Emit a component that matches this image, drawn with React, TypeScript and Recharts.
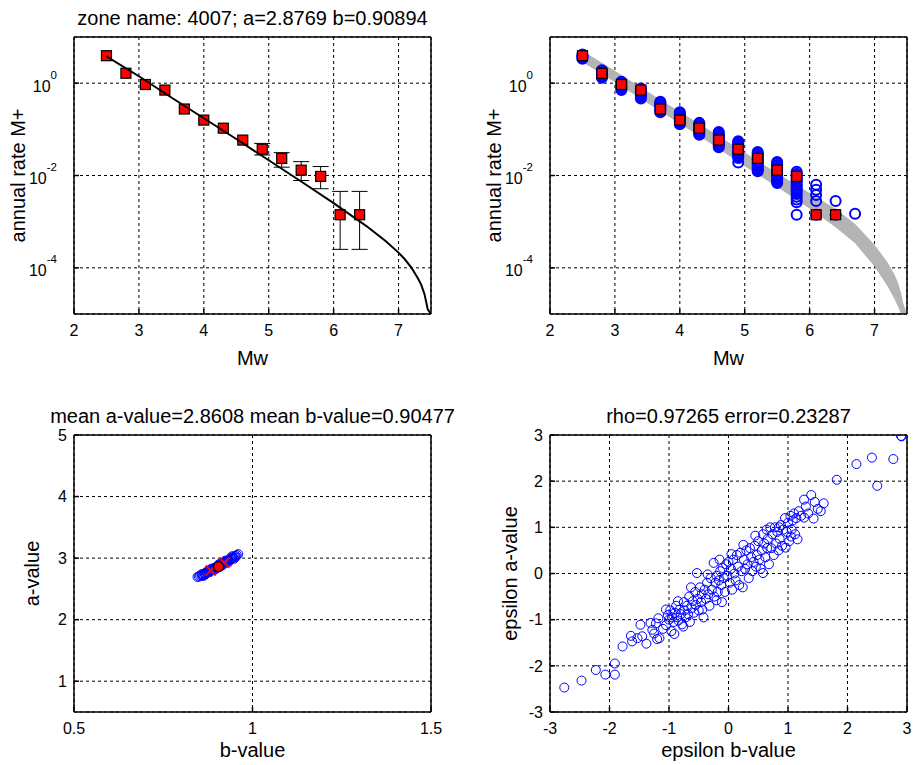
import React from 'react';
import { ComposedChart, ScatterChart, Scatter, Line, Area, XAxis, YAxis, CartesianGrid, ErrorBar } from 'recharts';

const FONT = "'Liberation Sans', Arial, Helvetica, sans-serif";

const mags = [2.5, 2.8, 3.1, 3.4, 3.7, 4.0, 4.3, 4.6, 4.9, 5.2, 5.5, 5.8, 6.1, 6.4];
const obsLog = [0.595, 0.215, -0.029, -0.15, -0.56, -0.8, -0.975, -1.233, -1.43, -1.63, -1.885, -2.02, -2.85, -2.85];
// error bars only stick out of the markers from Mw 4.9 upwards
const barMags = [4.9, 5.2, 5.5, 5.8, 6.1, 6.4];
const barLog = [-1.43, -1.63, -1.885, -2.02, -2.85, -2.85];
const barLoLog = [-1.556, -1.82, -2.108, -2.287, -3.6, -3.6];
const barHiLog = [-1.305, -1.505, -1.7, -1.806, -2.344, -2.344];

// fitted curve (black line)
const fitMags = [2.5, 3.0, 3.5, 4.0, 4.5, 5.0, 5.5, 6.0, 6.5, 6.8, 7.0, 7.1, 7.2, 7.3, 7.35, 7.4, 7.45, 7.5];
const fitLog = [0.58, 0.15, -0.31, -0.76, -1.21, -1.67, -2.13, -2.6, -3.09, -3.42, -3.67, -3.82, -4.0, -4.23, -4.37, -4.57, -4.9, -5];

// grey band of simulated curves
const bandMags = [2.5, 3.0, 3.5, 4.0, 4.5, 5.0, 5.5, 6.0, 6.4, 6.7, 7.0, 7.2, 7.3, 7.36, 7.41, 7.44, 7.5];
const bandHiLog = [0.7, 0.27, -0.18, -0.62, -1.06, -1.5, -1.95, -2.38, -2.72, -3.05, -3.5, -3.88, -4.13, -4.32, -4.55, -4.76, -5];
const bandLoLog = [0.46, 0.02, -0.43, -0.88, -1.33, -1.8, -2.25, -2.72, -3.12, -3.47, -3.97, -4.4, -4.66, -4.83, -5, -5, -5];

// simulated rates (blue circles), one column per magnitude
const simMags = [2.5, 2.8, 3.1, 3.4, 3.7, 4.0, 4.3, 4.6, 4.9, 5.2, 5.5, 5.8, 6.1, 6.4, 6.7];
const simLog = [
  [0.53, 0.56, 0.59, 0.62],
  [0.115, 0.15, 0.18, 0.21, 0.24, 0.28],
  [-0.15, -0.12, -0.09, -0.06, -0.03, 0.0, 0.03],
  [-0.33, -0.3, -0.27, -0.24, -0.21, -0.18, -0.15, -0.115],
  [-0.63, -0.6, -0.57, -0.54, -0.51, -0.48, -0.45, -0.42, -0.4],
  [-0.89, -0.86, -0.83, -0.8, -0.77, -0.74, -0.71, -0.68, -0.65, -0.63],
  [-1.12, -1.09, -1.06, -1.03, -1.0, -0.97, -0.94, -0.91, -0.88, -0.86],
  [-1.39, -1.36, -1.33, -1.3, -1.27, -1.24, -1.21, -1.18, -1.15, -1.12, -1.09, -1.06],
  [-1.72, -1.62, -1.59, -1.56, -1.53, -1.5, -1.47, -1.44, -1.41, -1.38, -1.35, -1.32, -1.29, -1.26],
  [-1.91, -1.88, -1.85, -1.82, -1.79, -1.76, -1.73, -1.7, -1.67, -1.64, -1.61, -1.58, -1.55, -1.52, -1.49],
  [-2.16, -2.13, -2.1, -2.07, -2.04, -2.01, -1.98, -1.95, -1.92, -1.89, -1.86, -1.83, -1.8, -1.77, -1.74, -1.71],
  [-2.85, -2.58, -2.52, -2.46, -2.4, -2.36, -2.32, -2.28, -2.24, -2.2, -2.16, -2.12, -2.08, -2.04, -2.0, -1.96, -1.92],
  [-2.85, -2.55, -2.42, -2.31, -2.2],
  [-2.85, -2.55],
  [-2.83],
];

const magTicks = [2, 3, 4, 5, 6, 7];
const rateTicks = [1e-4, 1e-2, 1];

// bottom left: a-value vs b-value of the simulations
const cloudBA = [
  [0.846, 2.695], [0.85, 2.7], [0.853, 2.715], [0.857, 2.72], [0.86, 2.735], [0.863, 2.725], [0.866, 2.75],
  [0.869, 2.745], [0.872, 2.765], [0.875, 2.77], [0.878, 2.78], [0.881, 2.79], [0.884, 2.8], [0.887, 2.81],
  [0.89, 2.82], [0.893, 2.835], [0.896, 2.84], [0.899, 2.855], [0.902, 2.86], [0.905, 2.87], [0.908, 2.885],
  [0.911, 2.89], [0.914, 2.9], [0.917, 2.915], [0.92, 2.92], [0.923, 2.935], [0.926, 2.94], [0.929, 2.955],
  [0.932, 2.965], [0.935, 2.97], [0.938, 2.985], [0.941, 2.99], [0.944, 3.005], [0.947, 3.01], [0.95, 3.03],
  [0.953, 3.035], [0.956, 3.05], [0.96, 3.065], [0.87, 2.77], [0.88, 2.77], [0.889, 2.835], [0.898, 2.83],
  [0.907, 2.905], [0.916, 2.885], [0.925, 2.96], [0.934, 2.945], [0.943, 3.03], [0.952, 3.01], [0.862, 2.71],
  [0.876, 2.795], [0.858, 2.74], [0.867, 2.73], [0.884, 2.825], [0.894, 2.81], [0.903, 2.885], [0.913, 2.875],
  [0.922, 2.95], [0.931, 2.93], [0.94, 3.01], [0.948, 2.99],
];
const crossBA = [[0.883, 2.8], [0.921, 2.925]];
const meanBA = [[0.9048, 2.8608]];

// bottom right: standardised residuals
const epsBA = [
  [-2.76, -2.47], [-2.47, -2.32], [-2.23, -2.09], [-2.07, -2.19], [-1.91, -1.95], [-1.91, -2.19],
  [-1.78, -1.58], [-1.64, -1.35], [-1.62, -1.47], [-1.53, -1.4], [-1.48, -1.11], [-1.38, -1.52], [-1.45, -1.36],
  [-1.31, -1.07], [-1.28, -1.22], [-1.25, -1.3], [-1.2, -1.42], [-1.16, -1.4], [-1.22, -1.08], [-1.18, -0.97],
  [-1.1, -1.2], [-1.05, -1.12], [-1.02, -0.9], [-1.0, -1.0], [-0.98, -0.8], [-0.96, -1.25], [-0.91, -1.31],
  [-0.95, -0.95], [-0.92, -1.05], [-0.9, -0.85], [-0.88, -0.7], [-0.86, -0.95], [-0.84, -1.02], [-0.82, -0.78],
  [-0.8, -0.88], [-0.78, -1.1], [-0.75, -0.62], [-0.74, -0.8], [-0.72, -0.95], [-0.7, -0.7], [-0.68, -0.88],
  [-0.66, -0.5], [-0.65, -1.05], [-0.62, -0.75], [-0.6, -0.6], [-0.58, -0.85], [-0.56, -0.4], [-0.55, -0.68],
  [-0.53, 0.01], [-0.52, -0.55], [-0.5, -0.8], [-0.48, -0.3], [-0.46, -0.62], [-0.45, -0.45], [-0.42, -0.95],
  [-0.4, -0.35], [-0.38, -0.55], [-0.36, -0.2], [-0.34, -0.45], [-0.32, -0.7], [-0.3, -0.1], [-0.28, -0.35],
  [-0.25, 0.23], [-0.24, -0.5], [-0.22, -0.2], [-0.2, -0.05], [-0.18, -0.4], [-0.16, -0.15], [-0.14, 0.05],
  [-0.12, -0.25], [-0.11, -0.62], [-0.1, 0.12], [-0.08, -0.1], [-0.06, -0.4], [-0.04, 0.2], [-0.02, -0.05],
  [0.0, 0.25], [0.02, -0.2], [0.04, 0.1], [0.06, -0.35], [0.08, 0.3], [0.1, 0.0], [0.12, -0.15], [0.14, 0.4],
  [0.16, 0.15], [0.18, -0.25], [0.2, 0.45], [0.22, 0.05], [0.24, -0.3], [0.26, 0.3], [0.28, 0.1], [0.3, 0.5],
  [0.32, 0.2], [0.34, -0.1], [0.36, 0.55], [0.38, 0.35], [0.4, 0.05], [0.42, 0.25], [0.44, 0.6], [0.46, 0.15],
  [0.48, 0.4], [0.5, 0.7], [0.52, 0.3], [0.54, 0.1], [0.56, 0.5], [0.58, 0.01], [0.58, 0.85], [0.6, 0.65],
  [0.62, 0.35], [0.64, 0.95], [0.66, 0.75], [0.68, 0.2], [0.7, 1.0], [0.72, 0.55], [0.74, 0.85], [0.76, 0.4],
  [0.78, 1.0], [0.8, 0.65], [0.82, 0.9], [0.84, 0.5], [0.86, 0.75], [0.88, 1.05], [0.9, 0.6], [0.92, 0.95],
  [0.96, 0.56], [0.95, 1.2], [0.98, 0.9], [1.0, 1.1], [1.02, 0.7], [1.04, 1.25], [1.06, 0.95], [1.08, 1.15],
  [1.1, 1.3], [1.12, 0.85], [1.16, 0.74], [1.14, 1.2], [1.18, 1.35], [1.22, 1.25], [1.27, 1.21], [1.27, 1.6],
  [1.3, 1.45], [1.34, 1.3], [1.39, 1.7], [1.43, 1.19], [1.45, 1.55], [1.5, 1.4], [1.55, 1.35], [1.6, 1.52],
  [1.82, 2.03], [2.15, 2.37], [2.41, 2.51], [2.5, 1.9], [2.77, 2.48], [2.9, 2.98], [2.91, 2.97],
  [-1.05, -0.78], [-0.85, -0.6], [-0.63, -0.3], [-0.35, -0.02], [-0.15, 0.3], [0.05, 0.42], [0.25, 0.62],
  [0.45, 0.82], [0.65, 0.55], [0.85, 1.0], [1.05, 0.8], [-0.76, -1.15], [-0.44, -0.78], [-0.2, -0.58],
];
const epsTicks = [-3, -2, -1, 0, 1, 2, 3];

const pow10 = (v: number) => Math.pow(10, v);

const fitTable = fitMags.map((m, i) => ({ m, rate: pow10(fitLog[i]) }));
const obsTable = mags.map((m, i) => ({ m, rate: pow10(obsLog[i]) }));
const barTable = barMags.map((m, i) => {
  const rate = pow10(barLog[i]);
  return { m, rate, err: [rate - pow10(barLoLog[i]), pow10(barHiLog[i]) - rate] };
});
const bandTable = bandMags.map((m, i) => ({ m, band: [pow10(bandLoLog[i]), pow10(bandHiLog[i])] }));
const simTable: { m: number; rate: number }[] = [];
simMags.forEach((m, i) => simLog[i].forEach((v) => simTable.push({ m, rate: pow10(v) })));
const toBA = (rows: number[][]) => rows.map(([b, a]) => ({ b, a }));

const tickStyle = { fontSize: 16, fill: '#000' };
const labelStyle = { fontSize: 20, fill: '#000' };

const LogTick = (props: any) => {
  const { x, y, payload } = props;
  const e = Math.round(Math.log10(payload.value));
  return (
    <text x={x} y={y} textAnchor="end" fontSize={16} fill="#000" fontFamily={FONT}>
      <tspan dy={8.5}>10</tspan>
      <tspan fontSize={11.5} dy={-13}>{e}</tspan>
    </text>
  );
};

const redSquare = (p: any) => (
  <rect x={p.cx - 5} y={p.cy - 5} width={10} height={10} fill="#ff0000" stroke="#000" strokeWidth={1.2} />
);
const noMark = () => <g />;
const blueRing = (r: number, w: number) => (p: any) => (
  <circle cx={p.cx} cy={p.cy} r={r} fill="none" stroke="#0000ff" strokeWidth={w} />
);
const redCross = (p: any) => (
  <g stroke="#ff0000" strokeWidth={2}>
    <line x1={p.cx - 5} y1={p.cy - 5} x2={p.cx + 5} y2={p.cy + 5} />
    <line x1={p.cx - 5} y1={p.cy + 5} x2={p.cx + 5} y2={p.cy - 5} />
  </g>
);
const redDot = (p: any) => <circle cx={p.cx} cy={p.cy} r={5} fill="#ff0000" stroke="#000" strokeWidth={1.2} />;

const grid = <CartesianGrid stroke="#000" strokeDasharray="3 3" />;

const RatePanel: React.FC<{ title?: string; width: number; rightW: number; sims?: boolean }> = ({ title, width, rightW, sims }) => (
  <ComposedChart width={width} height={382} data={sims ? bandTable : fitTable} margin={{ top: 0, right: 0, bottom: 0, left: 0 }}>
    {grid}
    <XAxis dataKey="m" type="number" domain={[2, 7.5]} ticks={magTicks} allowDataOverflow height={68}
      tickSize={-5} tickMargin={16} tick={tickStyle} stroke="#000" strokeWidth={1.5}
      label={{ value: 'Mw', position: 'insideBottom', offset: 17, ...labelStyle }} />
    <XAxis xAxisId="top" orientation="top" type="number" domain={[2, 7.5]} ticks={magTicks} allowDataOverflow height={37}
      tickSize={-5} tick={false} stroke="#000" strokeWidth={1.5}
      label={title ? { value: title, position: 'insideTop', offset: 11, ...labelStyle } : undefined} />
    <YAxis type="number" scale="log" domain={[1e-5, 10]} ticks={rateTicks} allowDataOverflow width={74}
      tickSize={-5} tickMargin={22} tick={LogTick} stroke="#000" strokeWidth={1.5}
      label={{ value: 'annual rate M+', angle: -90, position: 'insideLeft', offset: 18, ...labelStyle, style: { textAnchor: 'middle' } }} />
    <YAxis yAxisId="right" orientation="right" type="number" scale="log" domain={[1e-5, 10]} ticks={rateTicks} allowDataOverflow
      width={rightW} tickSize={-5} tick={false} stroke="#000" strokeWidth={1.5} />
    {sims && (
      <Area dataKey="band" type="linear" fill="#b4b4b4" fillOpacity={1} stroke="none" isAnimationActive={false} />
    )}
    {sims && <Scatter data={simTable} dataKey="rate" shape={blueRing(5, 2)} isAnimationActive={false} />}
    {!sims && (
      <Scatter data={barTable} dataKey="rate" shape={noMark} isAnimationActive={false}>
        <ErrorBar dataKey="err" direction="y" width={8} stroke="#000" strokeWidth={1} isAnimationActive={false} />
      </Scatter>
    )}
    <Scatter data={obsTable} dataKey="rate" shape={redSquare} isAnimationActive={false} zIndex={800} />
    {!sims && <Line dataKey="rate" type="linear" stroke="#000" strokeWidth={2} dot={false} isAnimationActive={false} zIndex={900} />}
  </ComposedChart>
);

const BottomPanel: React.FC<{
  title: string; xLabel: string; yLabel: string; xDomain: number[]; yDomain: number[]; width: number; rightW: number;
  xTicks: number[]; yTicks: number[]; yLabelOffset: number; children?: React.ReactNode;
}> = ({ title, xLabel, yLabel, xDomain, yDomain, width, rightW, xTicks, yTicks, yLabelOffset, children }) => (
  <ScatterChart width={width} height={367} margin={{ top: 0, right: 0, bottom: 0, left: 0 }}>
    {grid}
    <XAxis dataKey="b" type="number" domain={xDomain} ticks={xTicks} allowDataOverflow height={53}
      tickSize={-5} tickMargin={16} tick={tickStyle} stroke="#000" strokeWidth={1.5}
      label={{ value: xLabel, position: 'insideBottom', offset: 8, ...labelStyle }} />
    <XAxis xAxisId="top" orientation="top" type="number" domain={xDomain} ticks={xTicks} allowDataOverflow height={37}
      tickSize={-5} tick={false} stroke="#000" strokeWidth={1.5}
      label={{ value: title, position: 'insideTop', offset: 11, ...labelStyle }} />
    <YAxis dataKey="a" type="number" domain={yDomain} ticks={yTicks} allowDataOverflow width={74}
      tickSize={-5} tickMargin={12} tick={tickStyle} stroke="#000" strokeWidth={1.5}
      label={{ value: yLabel, angle: -90, position: 'insideLeft', offset: yLabelOffset, ...labelStyle, style: { textAnchor: 'middle' } }} />
    <YAxis yAxisId="right" orientation="right" type="number" domain={yDomain} ticks={yTicks} allowDataOverflow
      width={rightW} tickSize={-5} tick={false} stroke="#000" strokeWidth={1.5} />
    {children}
  </ScatterChart>
);

export default function App() {
  return (
    <div style={{ position: 'absolute', left: 0, top: 0, width: 914, height: 765, background: '#fff', fontFamily: FONT }}>
      <div style={{ position: 'absolute', left: 0, top: 0 }}>
        <RatePanel title="zone name: 4007; a=2.8769 b=0.90894" width={457} rightW={26} />
      </div>
      <div style={{ position: 'absolute', left: 476, top: 0 }}>
        <RatePanel width={438} rightW={7} sims />
      </div>
      <div style={{ position: 'absolute', left: 0, top: 398 }}>
        <BottomPanel title="mean a-value=2.8608 mean b-value=0.90477" xLabel="b-value" yLabel="a-value" width={476} rightW={45}
          xDomain={[0.5, 1.5]} yDomain={[0.5, 5]} xTicks={[0.5, 1, 1.5]} yTicks={[1, 2, 3, 4, 5]} yLabelOffset={32}>
          <Scatter data={toBA(cloudBA)} shape={blueRing(4.5, 1)} isAnimationActive={false} />
          <Scatter data={toBA(crossBA)} shape={redCross} isAnimationActive={false} />
          <Scatter data={toBA(meanBA)} shape={redDot} isAnimationActive={false} />
        </BottomPanel>
      </div>
      <div style={{ position: 'absolute', left: 476, top: 398 }}>
        <BottomPanel title="rho=0.97265 error=0.23287" xLabel="epsilon b-value" yLabel="epsilon a-value" width={438} rightW={7}
          xDomain={[-3, 3]} yDomain={[-3, 3]} xTicks={epsTicks} yTicks={epsTicks} yLabelOffset={34}>
          <Scatter data={toBA(epsBA)} shape={blueRing(4.5, 1)} isAnimationActive={false} />
        </BottomPanel>
      </div>
    </div>
  );
}
